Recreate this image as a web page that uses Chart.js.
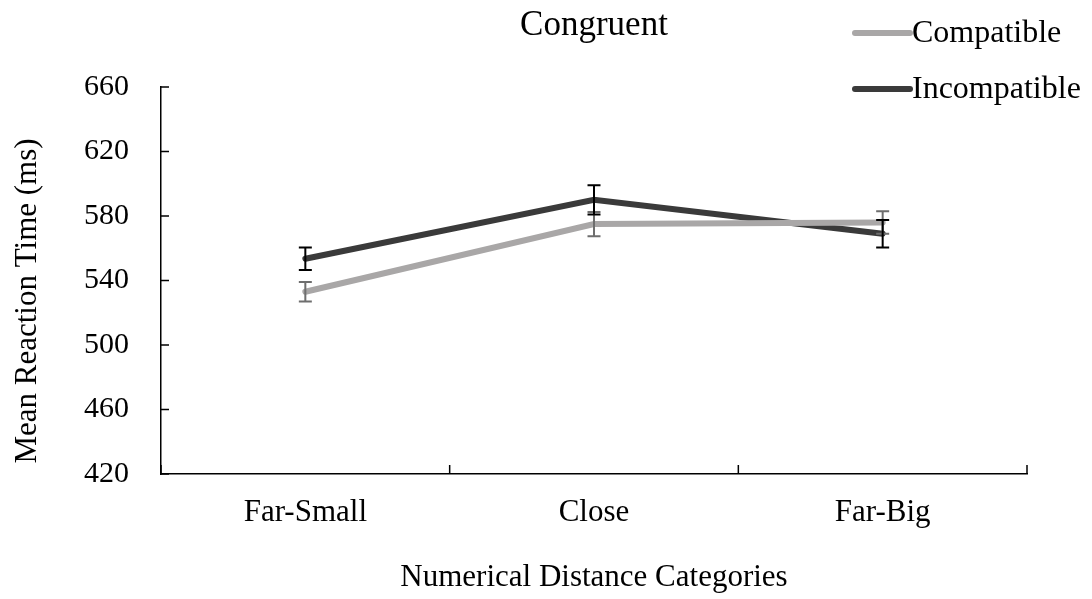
<!DOCTYPE html>
<html>
<head>
<meta charset="utf-8">
<script src="https://cdn.jsdelivr.net/npm/chart.js@4/dist/chart.umd.min.js"></script>
<style>
	html, body { margin: 0; padding: 0; background: #fff; }
	#wrap { width: 1092px; height: 599px; position: relative; }
</style>
</head>
<body>
<div id="wrap"><canvas id="chart"></canvas></div>
<script>
let categories = ['Far-Small', 'Close', 'Far-Big'];
let compatible = [533, 575, 576];
let compatibleErr = [6, 7.5, 7];
let incompatible = [553.5, 590, 569];
let incompatibleErr = [7, 9, 8.5];
let yTicks = [420, 460, 500, 540, 580, 620, 660];

let serif = "'Liberation Serif', 'Times New Roman', serif";
let lightGray = '#a9a7a7';
let darkGray = '#3a3a3a';

// error bars, inward tick marks, titles and legend
let extras = {
	id: 'extras',
	afterDatasetsDraw(chart) {
		let ctx = chart.ctx;
		let x = chart.scales.x;
		let y = chart.scales.y;
		let errs = [compatibleErr, incompatibleErr];
		let barColors = ['#6e6e6e', '#000000'];
		ctx.save();
		chart.data.datasets.forEach((ds, d) => {
			ctx.strokeStyle = barColors[d];
			ctx.lineWidth = 2;
			ds.data.forEach((v, i) => {
				let px = x.getPixelForValue(i);
				let top = y.getPixelForValue(v + errs[d][i]);
				let bot = y.getPixelForValue(v - errs[d][i]);
				ctx.beginPath();
				ctx.moveTo(px, top); ctx.lineTo(px, bot);
				ctx.moveTo(px - 6.5, top); ctx.lineTo(px + 6.5, top);
				ctx.moveTo(px - 6.5, bot); ctx.lineTo(px + 6.5, bot);
				ctx.stroke();
			});
		});
		ctx.restore();
	},
	afterDraw(chart) {
		let ctx = chart.ctx;
		let x = chart.scales.x;
		let y = chart.scales.y;
		let area = chart.chartArea;
		ctx.save();
		ctx.strokeStyle = '#000';
		ctx.lineWidth = 1.5;
		ctx.beginPath();
		yTicks.forEach(t => {
			let py = y.getPixelForValue(t);
			ctx.moveTo(area.left, py); ctx.lineTo(area.left + 8, py);
		});
		for (let i = 0; i <= categories.length; i++) {
			let px;
			if (i === 0) px = area.left;
			else if (i === categories.length) px = area.right;
			else px = (x.getPixelForValue(i - 1) + x.getPixelForValue(i)) / 2;
			ctx.moveTo(px, area.bottom); ctx.lineTo(px, area.bottom - 9);
		}
		ctx.stroke();

		ctx.fillStyle = '#000';
		ctx.font = '35px ' + serif;
		ctx.textAlign = 'center';
		ctx.textBaseline = 'alphabetic';
		ctx.fillText('Congruent', (area.left + area.right) / 2, 35);

		// y axis title, sits a bit below the plot centre in the original
		ctx.save();
		ctx.translate(28, 301);
		ctx.rotate(-Math.PI / 2);
		ctx.font = '31px ' + serif;
		ctx.textBaseline = 'middle';
		ctx.fillText('Mean Reaction Time (ms)', 0, 0);
		ctx.restore();

		let items = [['Compatible', lightGray, 33], ['Incompatible', darkGray, 89]];
		ctx.font = '32px ' + serif;
		ctx.textAlign = 'left';
		ctx.textBaseline = 'middle';
		items.forEach(it => {
			ctx.strokeStyle = it[1];
			ctx.lineWidth = 6;
			ctx.lineCap = 'round';
			ctx.beginPath();
			ctx.moveTo(855, it[2]); ctx.lineTo(910, it[2]);
			ctx.stroke();
			ctx.fillText(it[0], 912, it[2] + 1);
		});
		ctx.restore();
	}
};

new Chart(document.querySelector('#chart'), {
	type: 'line',
	data: {
		labels: categories,
		datasets: [
			{
				label: 'Compatible',
				data: compatible,
				borderColor: lightGray,
				borderWidth: 6,
				borderCapStyle: 'round',
				pointRadius: 0,
				tension: 0,
				fill: false
			},
			{
				label: 'Incompatible',
				data: incompatible,
				borderColor: darkGray,
				borderWidth: 6,
				borderCapStyle: 'round',
				pointRadius: 0,
				tension: 0,
				fill: false
			}
		]
	},
	options: {
		responsive: true,
		maintainAspectRatio: false,
		animation: { duration: 0 },
		layout: { padding: { top: 87, right: 65, bottom: 0, left: 0 } },
		plugins: {
			legend: { display: false },
			tooltip: { enabled: false }
		},
		scales: {
			x: {
				offset: true,
				grid: { display: false, drawTicks: false },
				border: { display: true, color: '#000', width: 1.5 },
				ticks: { color: '#000', padding: 20, font: { family: serif, size: 31 } },
				title: {
					display: true,
					text: 'Numerical Distance Categories',
					color: '#000',
					font: { family: serif, size: 31 },
					padding: { top: 0, bottom: 3 }
				},
				afterFit(scale) { scale.height = 125; }
			},
			y: {
				min: 420,
				max: 660,
				grid: { display: false, drawTicks: false },
				border: { display: true, color: '#000', width: 1.5 },
				afterBuildTicks(scale) { scale.ticks = yTicks.map(v => ({ value: v })); },
				ticks: { color: '#000', padding: 32, font: { family: serif, size: 30 } },
				afterFit(scale) { scale.width = 161; }
			}
		}
	},
	plugins: [extras]
});
</script>
</body>
</html>
